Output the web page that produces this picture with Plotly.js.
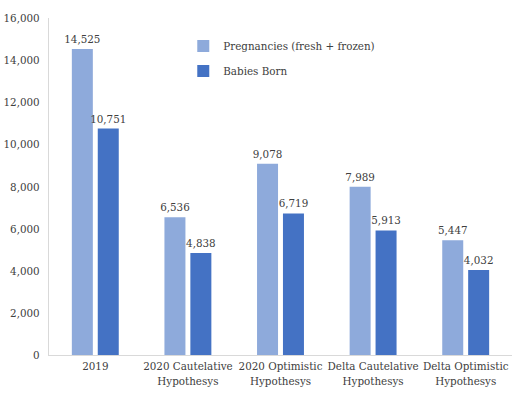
<!DOCTYPE html>
<html><head><meta charset="utf-8">
<script src="https://cdn.plot.ly/plotly-3.0.1.min.js"></script>
<style>html,body{margin:0;padding:0;background:#fff}</style>
</head><body>
<div id="chart" style="width:529px;height:397px"></div>
<script>
const categories = ["2019", "2020 Cautelative<br>Hypothesys", "2020 Optimistic<br>Hypothesys", "Delta Cautelative<br>Hypothesys", "Delta Optimistic<br>Hypothesys"];
const pregnancies = [14525, 6536, 9078, 7989, 5447];
const babies = [10751, 4838, 6719, 5913, 4032];
const yTicks = [0, 2000, 4000, 6000, 8000, 10000, 12000, 14000, 16000];
const fmt = v => v.toLocaleString('en-US');
const font = {family: "'DejaVu Serif Condensed', 'DejaVu Serif', serif", size: 11.5, color: "#404040"};
const traces = [
  {type: "bar", name: "Pregnancies (fresh + frozen)", x: categories, y: pregnancies,
   marker: {color: "#8eaadb"}, text: pregnancies.map(fmt), textposition: "outside",
   cliponaxis: false, constraintext: "none", textfont: font, legendgroup: "a"},
  {type: "bar", name: "Babies Born", x: categories, y: babies,
   marker: {color: "#4472c4"}, text: babies.map(fmt), textposition: "outside",
   cliponaxis: false, constraintext: "none", textfont: font, legendgroup: "b"}
];
const layout = {
  width: 529, height: 397,
  margin: {l: 49, r: 17, t: 18, b: 42},
  paper_bgcolor: "#fff", plot_bgcolor: "#fff",
  font: font,
  barmode: "group", bargap: 0.44, bargroupgap: 0.19,
  showlegend: true,
  legend: {x: 0.29, y: 0.96, xanchor: "left", yanchor: "top", bgcolor: "rgba(0,0,0,0)",
           font: font, itemwidth: 30, tracegroupgap: 6},
  xaxis: {showline: true, linecolor: "#d9d9d9", linewidth: 1, ticks: "", tickangle: 0, tickfont: font, automargin: false},
  yaxis: {range: [0, 16000], tickvals: yTicks, ticktext: yTicks.map(fmt), showgrid: false,
          showline: true, linecolor: "#d9d9d9", linewidth: 1, zeroline: false, ticks: "",
          tickfont: font, ticklabelstandoff: 6, automargin: false}
};
Plotly.newPlot("chart", traces, layout, {displayModeBar: false, staticPlot: true});
</script>
</body></html>
